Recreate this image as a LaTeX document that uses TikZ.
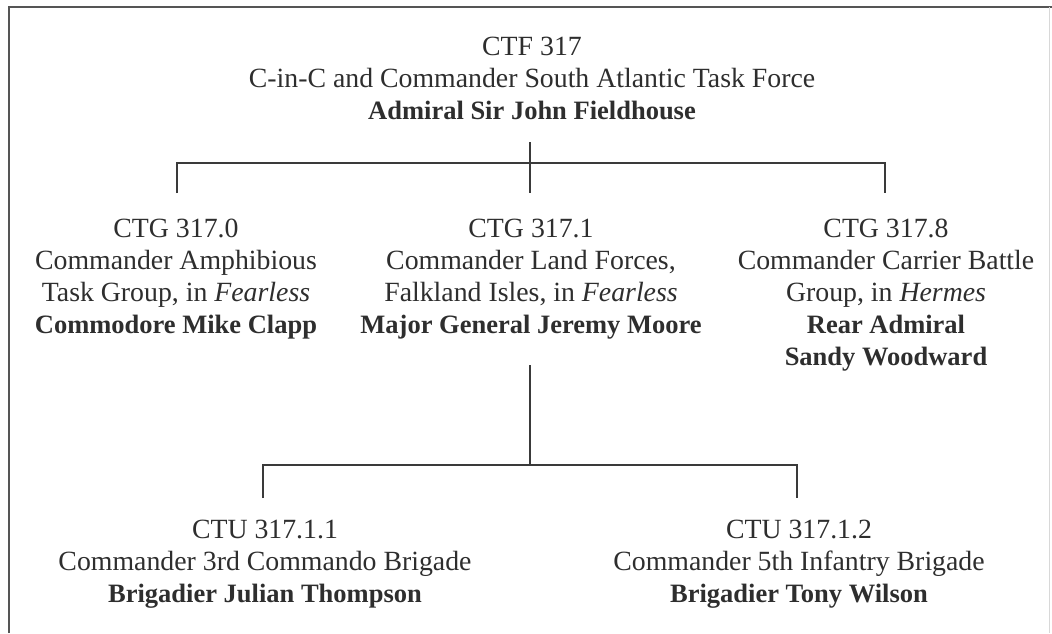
\documentclass[tikz,border=0pt]{standalone}
\usepackage{fontspec}
\setmainfont{Liberation Serif}
\definecolor{txt}{HTML}{2E2E2E}
\definecolor{ln}{HTML}{3A3A3A}
\definecolor{frm}{HTML}{555555}
\definecolor{faint}{HTML}{D8D8D8}
\newcommand\bnm[1]{{\fontsize{26.5}{32}\selectfont\bfseries #1}}
\begin{document}
\begin{tikzpicture}[x=1pt,y=-1pt,
  lbl/.style={anchor=north, inner sep=0pt, align=center, text=txt,
              font=\fontsize{27.8}{32}\selectfont},
  conn/.style={draw=ln, line width=2pt},
  framel/.style={draw=frm, line width=2pt}]
\useasboundingbox (0,0) rectangle (1052,633);
\fill[white] (0,0) rectangle (1052,633);
% frame
\draw[framel] (9,633) -- (9,7) -- (1052,7);
\draw[draw=faint, line width=1pt] (1049,7) -- (1049,633);
% nodes
\node[lbl] (cinc) at (532,36.6) {CTF 317\\C-in-C and Commander South Atlantic Task Force\\\bnm{Admiral Sir John Fieldhouse}};
\node[lbl] (ctg0) at (176,218.6) {CTG 317.0\\Commander Amphibious\\Task Group, in \textit{Fearless}\\\bnm{Commodore Mike Clapp}};
\node[lbl] (ctg1) at (531,218.6) {CTG 317.1\\Commander Land Forces,\\Falkland Isles, in \textit{Fearless}\\\bnm{Major General Jeremy Moore}};
\node[lbl] (ctg8) at (886,218.6) {CTG 317.8\\Commander Carrier Battle\\Group, in \textit{Hermes}\\\bnm{Rear Admiral}\\\bnm{Sandy Woodward}};
\node[lbl] (ctu1) at (265,519.6) {CTU 317.1.1\\Commander 3rd Commando Brigade\\\bnm{Brigadier Julian Thompson}};
\node[lbl] (ctu2) at (799,519.6) {CTU 317.1.2\\Commander 5th Infantry Brigade\\\bnm{Brigadier Tony Wilson}};
% junction coordinates
\coordinate (t0) at (530,142);
\coordinate (j1) at (530,163);
\coordinate (d0) at (177,193);
\coordinate (d1) at (530,193);
\coordinate (d8) at (885,193);
\coordinate (m0) at (530,365);
\coordinate (j2) at (530,465);
\coordinate (e1) at (263,498);
\coordinate (e2) at (797,498);
% connectors
\draw[conn] (t0) -- (j1);
\draw[conn] (d0) |- (j1) -| (d8);
\draw[conn] (j1) -- (d1);
\draw[conn] (m0) -- (j2);
\draw[conn] (e1) |- (j2) -| (e2);
\end{tikzpicture}
\end{document}
